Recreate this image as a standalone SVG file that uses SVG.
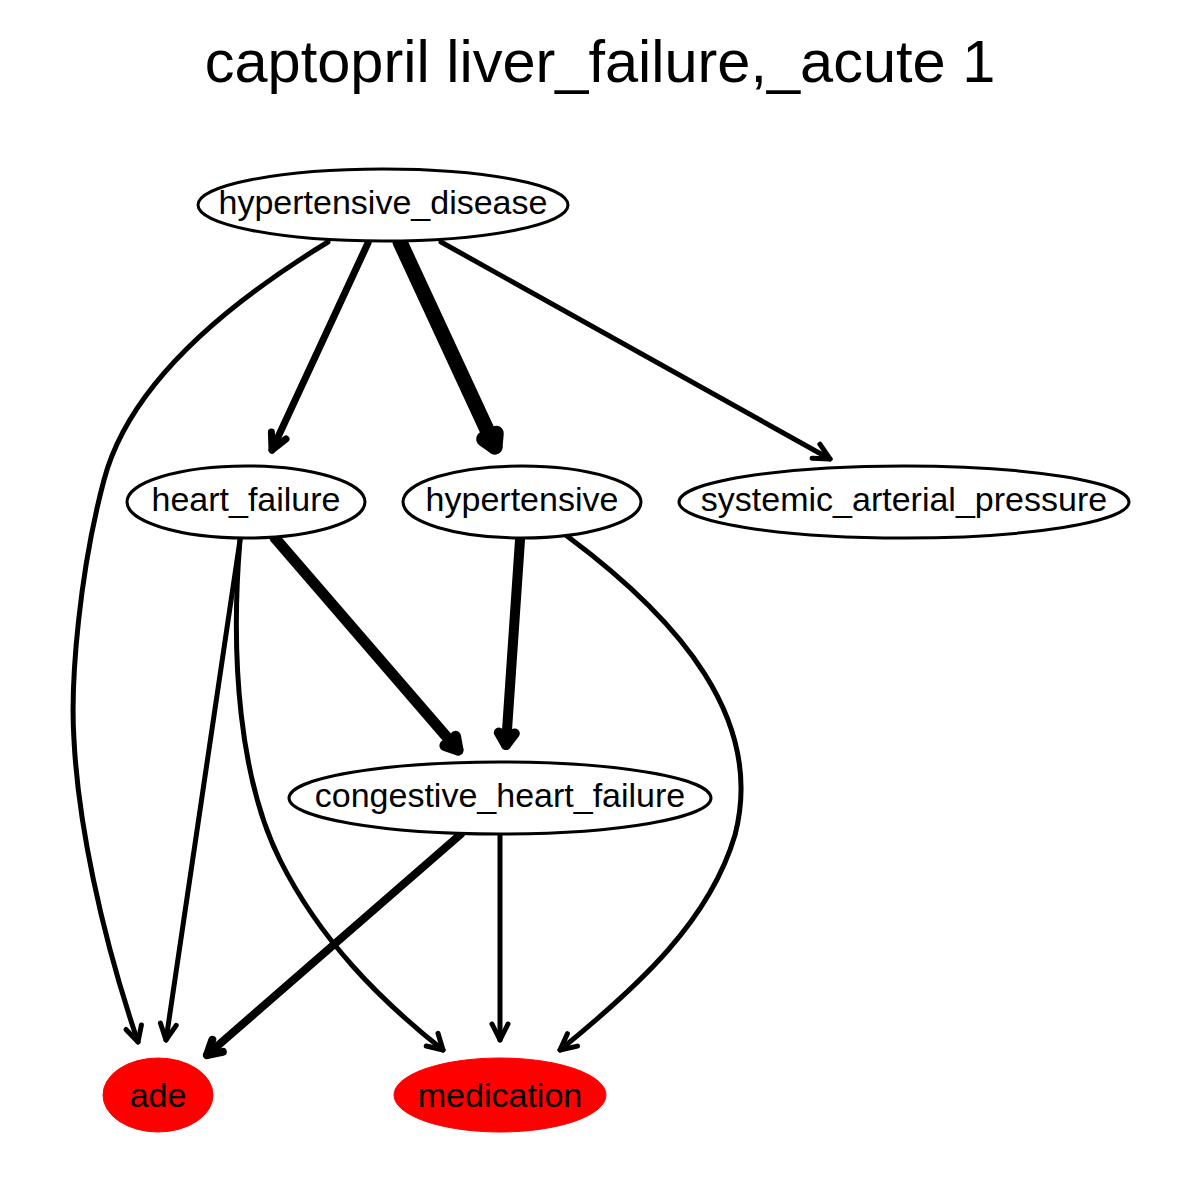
<svg xmlns="http://www.w3.org/2000/svg" width="1200" height="1200" viewBox="0 0 1200 1200">
<style>
text{font-family:"Liberation Sans",Arial,sans-serif;fill:#000;text-anchor:middle}
.lbl{font-size:34px}
.title{font-size:59.5px}
.node{fill:#fff;stroke:#000;stroke-width:3}
.red{fill:#ff0000;stroke:#ff0000;stroke-width:1}
.e{fill:none;stroke:#000;stroke-linecap:round;stroke-linejoin:round}
</style>
<rect width="1200" height="1200" fill="#fff"/>
<text class="title" x="600" y="82">captopril liver_failure,_acute 1</text>
<g id="edges">
<path class="e" stroke-width="5" d="M328,242 C200,320 125,400 104,480 C80,570 70,680 74,740 C78,820 100,930 138,1042"/>
<path class="e" stroke-width="5" d="M141.4,1025 L138,1042 L126,1029.5"/>
<path class="e" stroke-width="7" d="M368,243 L272,450"/>
<path class="e" stroke-width="7" d="M286,438.9 L272,450 L271.4,432.1"/>
<path class="e" stroke-width="15" d="M400,242 L495,447"/>
<path class="e" stroke-width="15" d="M496.3,433.2 L495,447 L483.6,439"/>
<path class="e" stroke-width="5" d="M441,242 L830,459"/>
<path class="e" stroke-width="5" d="M819.9,444.2 L830,459 L812.1,458.2"/>
<path class="e" stroke-width="5" d="M240,540 L166,1040"/>
<path class="e" stroke-width="5" d="M176.2,1025.4 L166,1040 L160.4,1023"/>
<path class="e" stroke-width="5" d="M240,540 C230,660 240,780 280,860 C320,940 380,1000 443,1050"/>
<path class="e" stroke-width="5" d="M438,1033.3 L443,1050 L426.2,1046"/>
<path class="e" stroke-width="11" d="M275,538 L458,750"/>
<path class="e" stroke-width="11" d="M455.5,736.3 L458,750 L444.9,745.5"/>
<path class="e" stroke-width="10" d="M520,540 L506,745"/>
<path class="e" stroke-width="10" d="M514.8,733.5 L506,745 L498.8,732.5"/>
<path class="e" stroke-width="5" d="M567,536 C680,620 765,720 735,835 C710,920 640,985 560,1050"/>
<path class="e" stroke-width="5" d="M577.5,1046.1 L560,1050 L567.4,1033.7"/>
<path class="e" stroke-width="8" d="M461,834 L207,1055"/>
<path class="e" stroke-width="8" d="M222.8,1051.8 L207,1055 L212.3,1039.8"/>
<path class="e" stroke-width="5" d="M500,836 L500,1040"/>
<path class="e" stroke-width="5" d="M508,1024 L500,1040 L492,1024"/>
</g>
<g id="hypertensive_disease"><ellipse class="node" cx="383" cy="205" rx="185" ry="36"/><text class="lbl" x="383" y="214">hypertensive_disease</text></g>
<g id="heart_failure"><ellipse class="node" cx="246" cy="502" rx="119" ry="36"/><text class="lbl" x="246" y="511">heart_failure</text></g>
<g id="hypertensive"><ellipse class="node" cx="522" cy="502" rx="119" ry="36"/><text class="lbl" x="522" y="511">hypertensive</text></g>
<g id="systemic_arterial_pressure"><ellipse class="node" cx="904" cy="502" rx="225" ry="36"/><text class="lbl" x="904" y="511">systemic_arterial_pressure</text></g>
<g id="congestive_heart_failure"><ellipse class="node" cx="500" cy="798" rx="211" ry="36"/><text class="lbl" x="500" y="807">congestive_heart_failure</text></g>
<g id="ade"><ellipse class="red" cx="158" cy="1095" rx="55" ry="37"/><text class="lbl" x="158" y="1107">ade</text></g>
<g id="medication"><ellipse class="red" cx="500" cy="1095" rx="106" ry="37"/><text class="lbl" x="500" y="1107">medication</text></g>
</svg>
